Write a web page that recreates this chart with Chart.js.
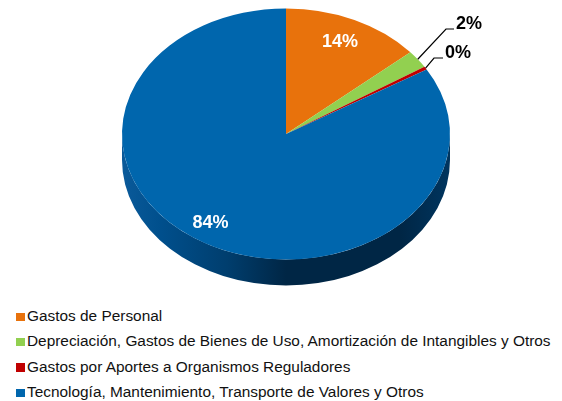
<!DOCTYPE html>
<html>
<head>
<meta charset="utf-8">
<script src="https://cdn.jsdelivr.net/npm/chart.js@4"></script>
<style>
  html, body { margin: 0; padding: 0; background: #fff; }
  #wrap { position: relative; width: 562px; height: 401px; overflow: hidden; }
  #pie { display: block; }
  #legend { position: absolute; left: 16px; top: 303px; font: 15.4px "Liberation Sans", Arial, sans-serif; color: #111; }
  .row { height: 25.4px; line-height: 25.4px; white-space: nowrap; }
  .box { display: inline-block; width: 8.5px; height: 8.5px; margin-right: 2.5px; }
</style>
</head>
<body>
<div id="wrap">
  <canvas id="pie" width="562" height="300"></canvas>
  <div id="legend"></div>
</div>
<script>
const categories = [
  'Gastos de Personal',
  'Depreciación, Gastos de Bienes de Uso, Amortización de Intangibles y Otros',
  'Gastos por Aportes a Organismos Reguladores',
  'Tecnología, Mantenimiento, Transporte de Valores y Otros',
];
const values = [13.7, 2.3, 0.4, 83.6];
const colors = ['#e8720c', '#92d050', '#c00000', '#0066ad'];

// squashed pie + fake depth
const pieRadius = 164;
const tilt = 125.5 / 164;
const depth = 26;

const pie3d = {
  id: 'pie3d',
  beforeDatasetDraw(chart) {
    const { ctx } = chart;
    const first = chart.getDatasetMeta(0).data[0];
    const cx = first.x, cy = first.y;
    const rx = first.outerRadius, ry = rx * tilt;

    // only the lower half of the wall can be seen
    const wall = ctx.createLinearGradient(cx - rx, 0, cx + rx, 0);
    wall.addColorStop(0, '#0a5a9a');
    wall.addColorStop(0.12, '#004f8c');
    wall.addColorStop(0.32, '#003e6e');
    wall.addColorStop(0.5, '#002645');
    wall.addColorStop(0.85, '#002645');
    wall.addColorStop(1, '#00355f');
    ctx.fillStyle = wall;
    ctx.beginPath();
    ctx.ellipse(cx, cy + depth, rx, ry, 0, 0, Math.PI);
    ctx.lineTo(cx - rx, cy);
    ctx.ellipse(cx, cy, rx, ry, 0, Math.PI, 0, true);
    ctx.closePath();
    ctx.fill();

    ctx.save();
    ctx.translate(cx, cy);
    ctx.scale(1, tilt);
    ctx.translate(-cx, -cy);
  },
  afterDatasetDraw(chart) {
    chart.ctx.restore();
  },
  afterDatasetsDraw(chart) {
    const { ctx } = chart;
    const arcs = chart.getDatasetMeta(0).data;
    const text = values.map(v => Math.round(v) + '%');
    const edge = arc => {
      const mid = (arc.startAngle + arc.endAngle) / 2;
      return {
        x: arc.x + arc.outerRadius * Math.cos(mid),
        y: arc.y + arc.outerRadius * tilt * Math.sin(mid),
      };
    };

    ctx.font = 'bold 18px "Liberation Sans", Arial, sans-serif';
    ctx.textBaseline = 'middle';

    // inside labels
    ctx.fillStyle = '#fff';
    ctx.textAlign = 'center';
    ctx.fillText(text[0], 340, 42);
    ctx.fillText(text[3], 210.5, 223);

    // small slices get a leader line
    const leaders = [[1, 446, 29, 454], [2, 434, 58, 443]];
    ctx.strokeStyle = '#000';
    ctx.lineWidth = 1.2;
    leaders.forEach(([i, bendX, bendY, endX]) => {
      const p = edge(arcs[i]);
      ctx.beginPath();
      ctx.moveTo(p.x, p.y);
      ctx.lineTo(bendX, bendY);
      ctx.lineTo(endX, bendY);
      ctx.stroke();
      ctx.fillStyle = '#000';
      ctx.textAlign = 'left';
      ctx.fillText(text[i], endX + 2, bendY - 4.5);
    });
  },
};

new Chart(document.getElementById('pie'), {
  type: 'pie',
  data: {
    labels: categories,
    datasets: [{
      data: values,
      backgroundColor: colors,
      borderWidth: 0,
      radius: pieRadius,
      clip: false,
    }],
  },
  options: {
    responsive: false,
    animation: false,
    layout: { padding: { left: 10, bottom: 32 } },
    plugins: { legend: { display: false }, tooltip: { enabled: false } },
  },
  plugins: [pie3d],
});

document.getElementById('legend').innerHTML = categories.map((name, i) =>
  `<div class="row"><span class="box" style="background:${colors[i]}"></span>${name}</div>`
).join('');
</script>
</body>
</html>
